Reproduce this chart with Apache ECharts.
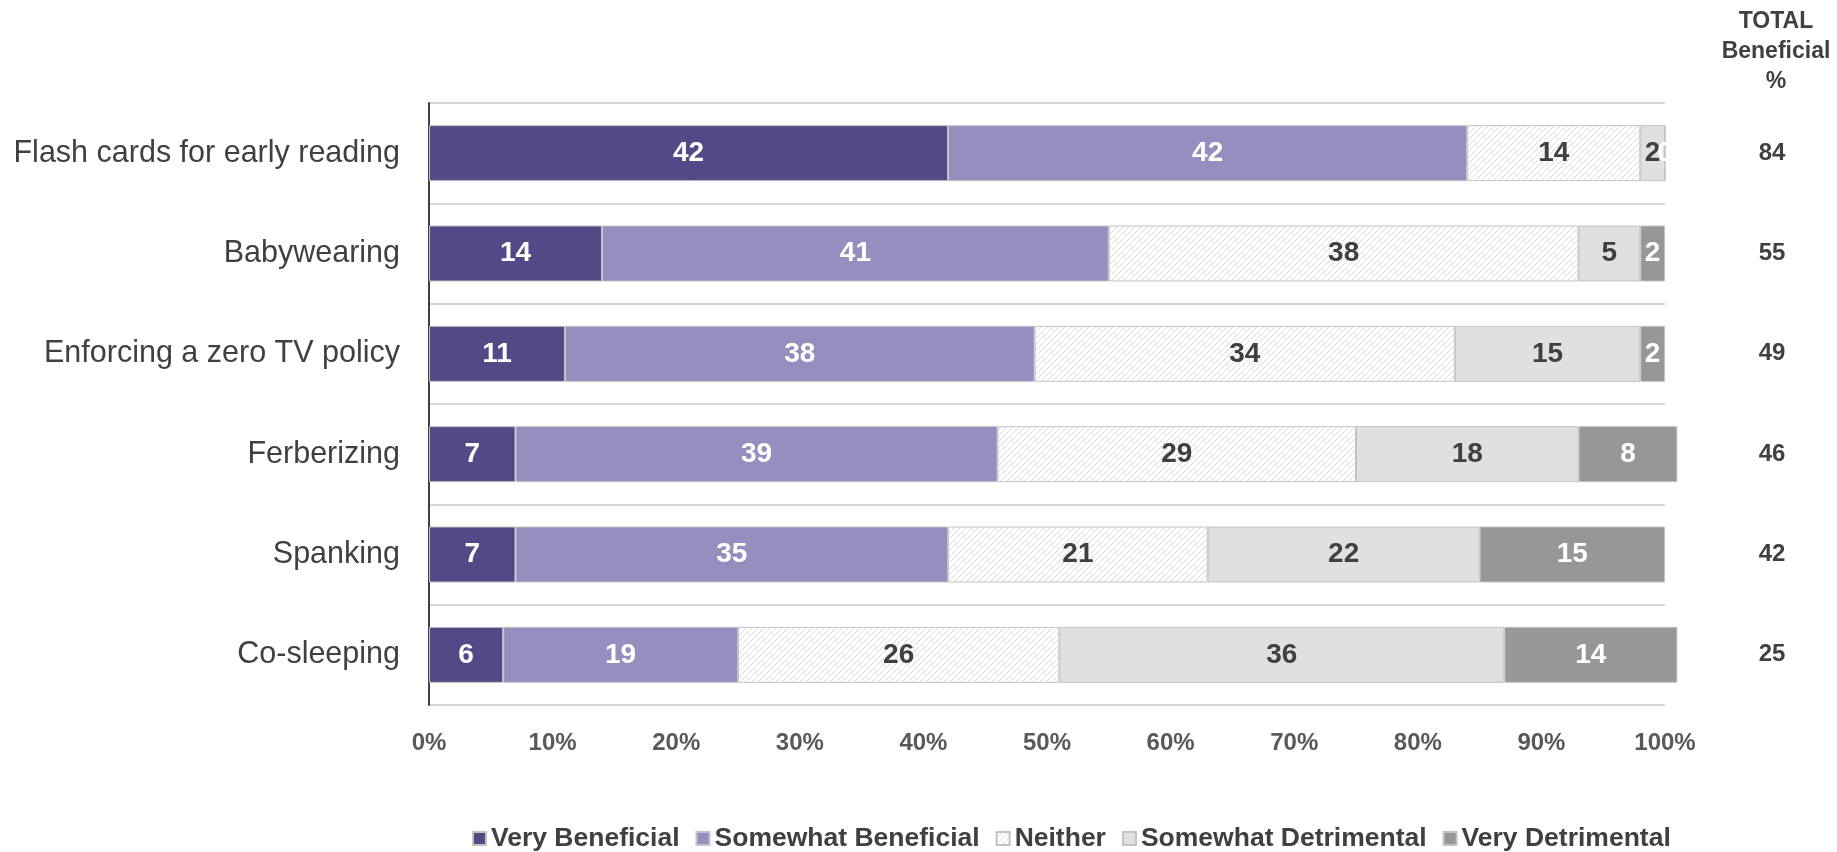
<!DOCTYPE html>
<html>
<head>
<meta charset="utf-8">
<script src="https://cdn.jsdelivr.net/npm/echarts@6/dist/echarts.min.js"></script>
<style>
html,body{margin:0;padding:0;background:#fff;}
#chart{width:1837px;height:852px;}
</style>
</head>
<body>
<div id="chart"></div>
<script>
var categories = ['Flash cards for early reading','Babywearing','Enforcing a zero TV policy','Ferberizing','Spanking','Co-sleeping'];
var seriesNames = ['Very Beneficial','Somewhat Beneficial','Neither','Somewhat Detrimental','Very Detrimental'];
var veryBeneficial = [42,14,11,7,7,6];
var somewhatBeneficial = [42,41,38,39,35,19];
var neither = [14,38,34,29,21,26];
var somewhatDetrimental = [2,5,15,18,22,36];
var veryDetrimental = [0,2,2,8,15,14];
var totalBeneficial = ['84','55','49','46','42','25'];
var xTicks = [0,10,20,30,40,50,60,70,80,90,100];

var FONT = '"Liberation Sans", Arial, sans-serif';

function hatch(){
  var c = document.createElement('canvas');
  c.width = 6; c.height = 6;
  var g = c.getContext('2d');
  g.fillStyle = '#ffffff';
  g.fillRect(0,0,6,6);
  g.strokeStyle = '#dadada';
  g.lineWidth = 1;
  g.beginPath();
  g.moveTo(0,6); g.lineTo(6,0);
  g.moveTo(-3,3); g.lineTo(3,-3);
  g.moveTo(3,9); g.lineTo(9,3);
  g.stroke();
  return c;
}

var colors = ['#524a86','#948fbe',{image: hatch(), repeat:'repeat'},'#e0e0e0','#979797'];
var labelColors = ['#ffffff','#ffffff','#404040','#404040','#ffffff'];
var values = [veryBeneficial, somewhatBeneficial, neither, somewhatDetrimental, veryDetrimental];

var chart = echarts.init(document.getElementById('chart'));
var series = values.map(function(v,i){
  return {
    name: seriesNames[i],
    type: 'bar',
    stack: 'total',
    data: v,
    barWidth: 56,
    clip: false,
    itemStyle: {color: colors[i], borderColor: '#c3c3c3', borderWidth: 1},
    label: {show: true, position: 'inside', color: labelColors[i], fontFamily: FONT, fontWeight: 'bold', fontSize: 28},
    emphasis: {disabled: true}
  };
});

chart.setOption({
  animation: false,
  backgroundColor: '#ffffff',
  textStyle: {fontFamily: FONT},
  title: {
    text: 'TOTAL\nBeneficial\n%',
    left: 1771, top: 2, textAlign: 'center',
    textStyle: {fontFamily: FONT, fontWeight: 'bold', fontSize: 23, color: '#404040', lineHeight: 30}
  },
  legend: {
    data: seriesNames,
    top: 820, left: 467,
    icon: 'rect', itemWidth: 13, itemHeight: 13, itemGap: 16,
    textStyle: {fontFamily: FONT, fontWeight: 'bold', fontSize: 26.5, color: '#404040', padding: [0,0,0,0]}
  },
  grid: {left: 429, right: 172, top: 103, bottom: 147},
  xAxis: {
    type: 'value', min: xTicks[0], max: xTicks[xTicks.length-1], interval: 10,
    axisLine: {show: false}, axisTick: {show: false}, splitLine: {show: false},
    axisLabel: {formatter: '{value}%', margin: 26, color: '#595959', fontFamily: FONT, fontWeight: 'bold', fontSize: 24}
  },
  yAxis: [{
    type: 'category', data: categories, inverse: true,
    axisLine: {show: true, lineStyle: {color: '#404040', width: 2}},
    axisTick: {show: false},
    splitLine: {show: true, lineStyle: {color: '#c8c8c8', width: 1.5}},
    axisLabel: {margin: 29, color: '#404040', fontFamily: FONT, fontSize: 30.5}
  },{
    type: 'category', data: totalBeneficial, inverse: true, position: 'right',
    axisLine: {show: false}, axisTick: {show: false}, splitLine: {show: false},
    axisLabel: {margin: 107, align: 'center', color: '#404040', fontFamily: FONT, fontWeight: 'bold', fontSize: 24}
  }],
  series: series
});
</script>
</body>
</html>
